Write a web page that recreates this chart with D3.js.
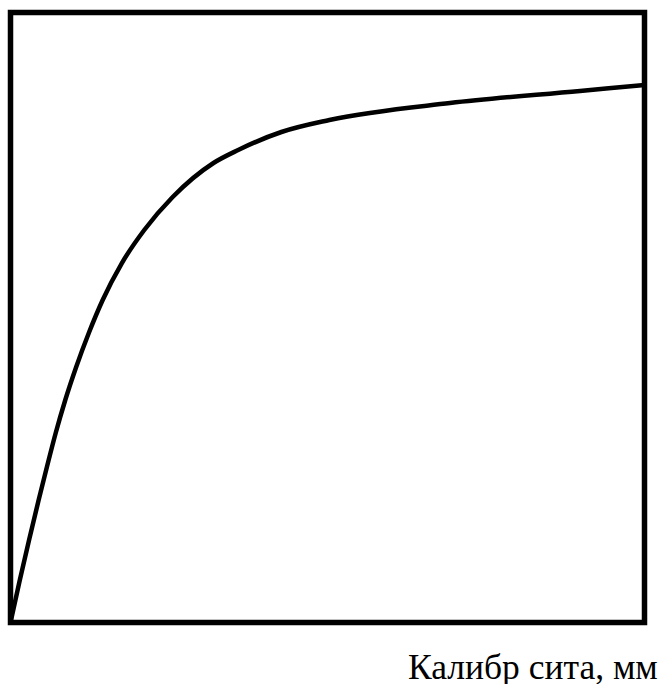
<!DOCTYPE html>
<html>
<head>
<meta charset="utf-8">
<script src="https://cdn.jsdelivr.net/npm/d3@7"></script>
<style>
  html, body { margin: 0; padding: 0; background: #fff; overflow: hidden; }
  svg { display: block; }
  .axis-title { font-family: "Liberation Serif", "Times New Roman", Times, serif; }
</style>
</head>
<body>
<script>
// Sieve size (percent of axis span) and cumulative passing (percent of axis span)
const sieveSize = [0, 1.47, 2.93, 4.44, 5.78, 7.13, 8.64, 10.36, 12.35, 14.54, 17.57, 21.10, 25.58, 32.02, 35.91, 42.73, 50.30, 69.32, 89.83, 100];
const passing   = [0, 6.97, 13.52, 20.08, 25.66, 31.07, 36.48, 41.89, 47.46, 52.87, 58.93, 64.34, 69.75, 75.33, 77.46, 80.41, 82.38, 85.16, 87.13, 88.11];
const xLabel = "Калибр сита, мм";

const W = 665, H = 684;
const svg = d3.select("body").append("svg").attr("width", W).attr("height", H);

const box = { left: 10.5, top: 12.5, right: 644.5, bottom: 622.5 };
const x = d3.scaleLinear().domain([0, 100]).range([box.left, box.right]);
const y = d3.scaleLinear().domain([0, 100]).range([box.bottom, box.top]);

const pts = sieveSize.map((d, i) => [d, passing[i]]);

const line = d3.line()
  .x(d => x(d[0]))
  .y(d => y(d[1]))
  .curve(d3.curveMonotoneX);

svg.append("path")
  .datum(pts)
  .attr("d", line)
  .attr("fill", "none")
  .attr("stroke", "#000")
  .attr("stroke-width", 4.5)
  .attr("stroke-linejoin", "round");

// frame
svg.append("rect")
  .attr("x", box.left)
  .attr("y", box.top)
  .attr("width", box.right - box.left)
  .attr("height", box.bottom - box.top)
  .attr("fill", "none")
  .attr("stroke", "#000")
  .attr("stroke-width", 5.5);

svg.append("text")
  .attr("class", "axis-title")
  .attr("x", 408)
  .attr("y", 678.5)
  .attr("font-size", 35.5)
  .attr("fill", "#000")
  .text(xLabel);
</script>
</body>
</html>
